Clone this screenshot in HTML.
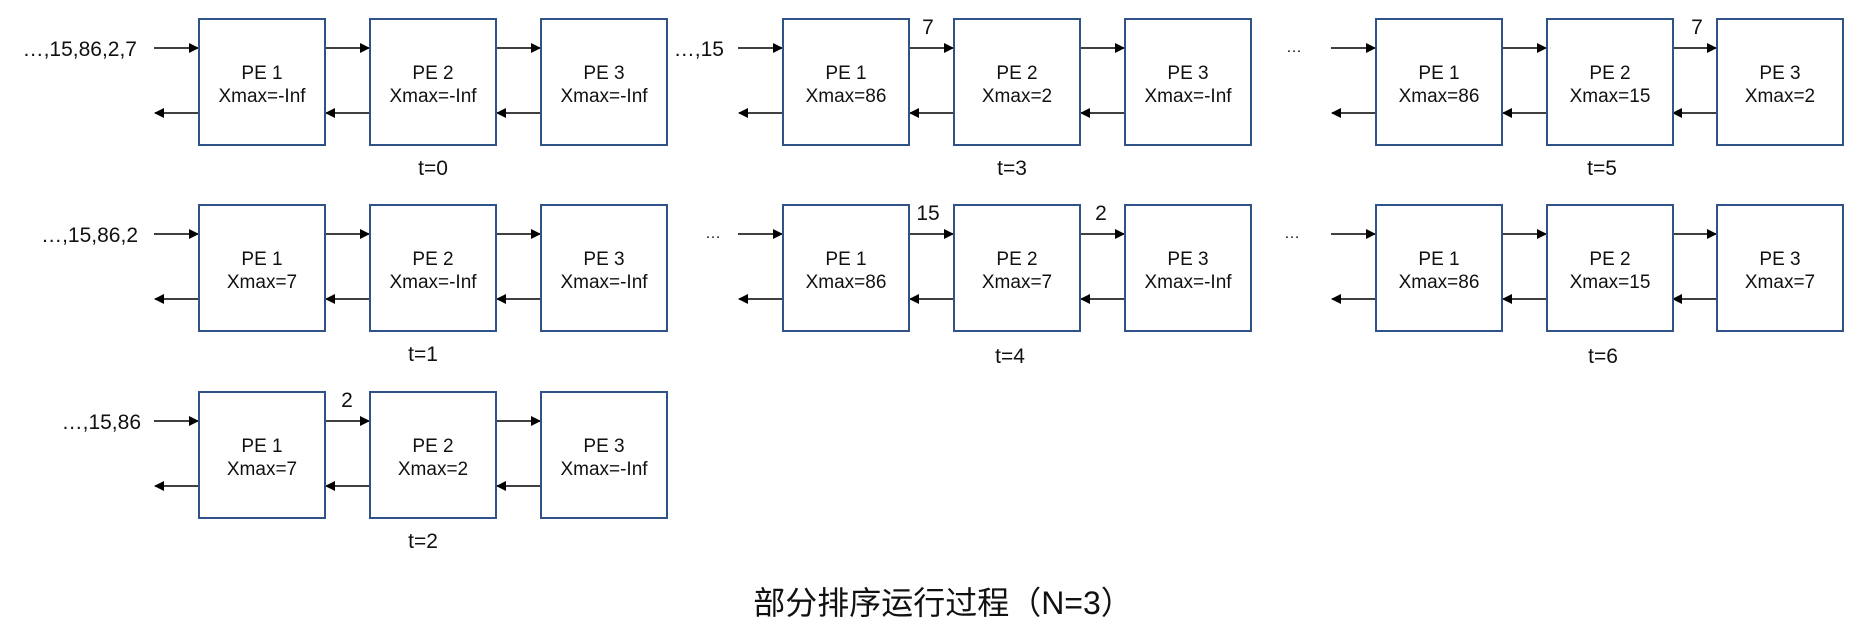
<!DOCTYPE html>
<html><head><meta charset="utf-8"><style>
html,body{margin:0;padding:0;background:#fff;}
svg{display:block;font-family:"Liberation Sans","Noto Sans CJK SC",sans-serif;}
.b{fill:#fff;stroke:#2f5289;stroke-width:2;}
.l{stroke:#000;stroke-width:1.5;}
text{fill:#111;}
.pe{font-size:19px;text-anchor:middle;}
.lb{font-size:21px;}
.t{font-size:21px;text-anchor:middle;}
</style></head><body>
<svg width="1873" height="643" viewBox="0 0 1873 643">
<defs>
<marker id="a" markerWidth="10" markerHeight="10" refX="9" refY="5" orient="auto" markerUnits="userSpaceOnUse"><path d="M0,0 L10,5 L0,10 z" fill="#000"/></marker>
<g id="g1">
 <line class="l" x1="154" y1="48" x2="198" y2="48" marker-end="url(#a)"/>
 <line class="l" x1="199" y1="113" x2="155" y2="113" marker-end="url(#a)"/>
 <line class="l" x1="325" y1="48" x2="369" y2="48" marker-end="url(#a)"/>
 <line class="l" x1="370" y1="113" x2="326" y2="113" marker-end="url(#a)"/>
 <line class="l" x1="496" y1="48" x2="540" y2="48" marker-end="url(#a)"/>
 <line class="l" x1="541" y1="113" x2="497" y2="113" marker-end="url(#a)"/>
 <rect class="b" x="199" y="19" width="126" height="126"/>
 <rect class="b" x="370" y="19" width="126" height="126"/>
 <rect class="b" x="541" y="19" width="126" height="126"/>
 <text class="pe" x="262" y="79">PE 1</text><text class="pe" x="433" y="79">PE 2</text><text class="pe" x="604" y="79">PE 3</text>
</g>
<g id="g2">
 <line class="l" x1="738" y1="48" x2="782" y2="48" marker-end="url(#a)"/>
 <line class="l" x1="783" y1="113" x2="739" y2="113" marker-end="url(#a)"/>
 <line class="l" x1="909" y1="48" x2="953" y2="48" marker-end="url(#a)"/>
 <line class="l" x1="954" y1="113" x2="910" y2="113" marker-end="url(#a)"/>
 <line class="l" x1="1080" y1="48" x2="1124" y2="48" marker-end="url(#a)"/>
 <line class="l" x1="1125" y1="113" x2="1081" y2="113" marker-end="url(#a)"/>
 <rect class="b" x="783" y="19" width="126" height="126"/>
 <rect class="b" x="954" y="19" width="126" height="126"/>
 <rect class="b" x="1125" y="19" width="126" height="126"/>
 <text class="pe" x="846" y="79">PE 1</text><text class="pe" x="1017" y="79">PE 2</text><text class="pe" x="1188" y="79">PE 3</text>
</g>
<g id="g3">
 <line class="l" x1="1331" y1="48" x2="1375" y2="48" marker-end="url(#a)"/>
 <line class="l" x1="1376" y1="113" x2="1332" y2="113" marker-end="url(#a)"/>
 <line class="l" x1="1502" y1="48" x2="1546" y2="48" marker-end="url(#a)"/>
 <line class="l" x1="1547" y1="113" x2="1503" y2="113" marker-end="url(#a)"/>
 <line class="l" x1="1672" y1="48" x2="1716" y2="48" marker-end="url(#a)"/>
 <line class="l" x1="1717" y1="113" x2="1673" y2="113" marker-end="url(#a)"/>
 <rect class="b" x="1376" y="19" width="126" height="126"/>
 <rect class="b" x="1547" y="19" width="126" height="126"/>
 <rect class="b" x="1717" y="19" width="126" height="126"/>
 <text class="pe" x="1439" y="79">PE 1</text><text class="pe" x="1610" y="79">PE 2</text><text class="pe" x="1780" y="79">PE 3</text>
</g>
</defs>

<!-- Row 0 -->
<g>
 <use href="#g1"/><use href="#g2"/><use href="#g3"/>
 <text class="pe" x="262" y="102">Xmax=-Inf</text><text class="pe" x="433" y="102">Xmax=-Inf</text><text class="pe" x="604" y="102">Xmax=-Inf</text>
 <text class="pe" x="846" y="102">Xmax=86</text><text class="pe" x="1017" y="102">Xmax=2</text><text class="pe" x="1188" y="102">Xmax=-Inf</text>
 <text class="pe" x="1439" y="102">Xmax=86</text><text class="pe" x="1610" y="102">Xmax=15</text><text class="pe" x="1780" y="102">Xmax=2</text>
 <text class="lb" x="137" y="56" text-anchor="end">…,15,86,2,7</text>
 <text class="lb" x="724" y="56" text-anchor="end">…,15</text>
 <text class="lb" x="1294" y="52" text-anchor="middle" style="font-size:16px">…</text>
 <text class="lb" x="928" y="34" text-anchor="middle">7</text>
 <text class="lb" x="1697" y="34" text-anchor="middle">7</text>
 <text class="t" x="433" y="175">t=0</text><text class="t" x="1012" y="175">t=3</text><text class="t" x="1602" y="175">t=5</text>
</g>
<!-- Row 1 -->
<g transform="translate(0,186)">
 <use href="#g1"/><use href="#g2"/><use href="#g3"/>
 <text class="pe" x="262" y="102">Xmax=7</text><text class="pe" x="433" y="102">Xmax=-Inf</text><text class="pe" x="604" y="102">Xmax=-Inf</text>
 <text class="pe" x="846" y="102">Xmax=86</text><text class="pe" x="1017" y="102">Xmax=7</text><text class="pe" x="1188" y="102">Xmax=-Inf</text>
 <text class="pe" x="1439" y="102">Xmax=86</text><text class="pe" x="1610" y="102">Xmax=15</text><text class="pe" x="1780" y="102">Xmax=7</text>
 <text class="lb" x="138" y="56" text-anchor="end">…,15,86,2</text>
 <text class="lb" x="713" y="52" text-anchor="middle" style="font-size:16px">…</text>
 <text class="lb" x="1292" y="52" text-anchor="middle" style="font-size:16px">…</text>
 <text class="lb" x="928" y="34" text-anchor="middle">15</text>
 <text class="lb" x="1101" y="34" text-anchor="middle">2</text>
 <text class="t" x="423" y="175">t=1</text><text class="t" x="1010" y="177">t=4</text><text class="t" x="1603" y="177">t=6</text>
</g>
<!-- Row 2 -->
<g transform="translate(0,373)">
 <use href="#g1"/>
 <text class="pe" x="262" y="102">Xmax=7</text><text class="pe" x="433" y="102">Xmax=2</text><text class="pe" x="604" y="102">Xmax=-Inf</text>
 <text class="lb" x="141" y="56" text-anchor="end">…,15,86</text>
 <text class="lb" x="347" y="34" text-anchor="middle">2</text>
 <text class="t" x="423" y="175">t=2</text>
</g>
<text x="943" y="614" text-anchor="middle" style="font-size:32px">部分排序运行过程（N=3）</text>
</svg>
</body></html>
